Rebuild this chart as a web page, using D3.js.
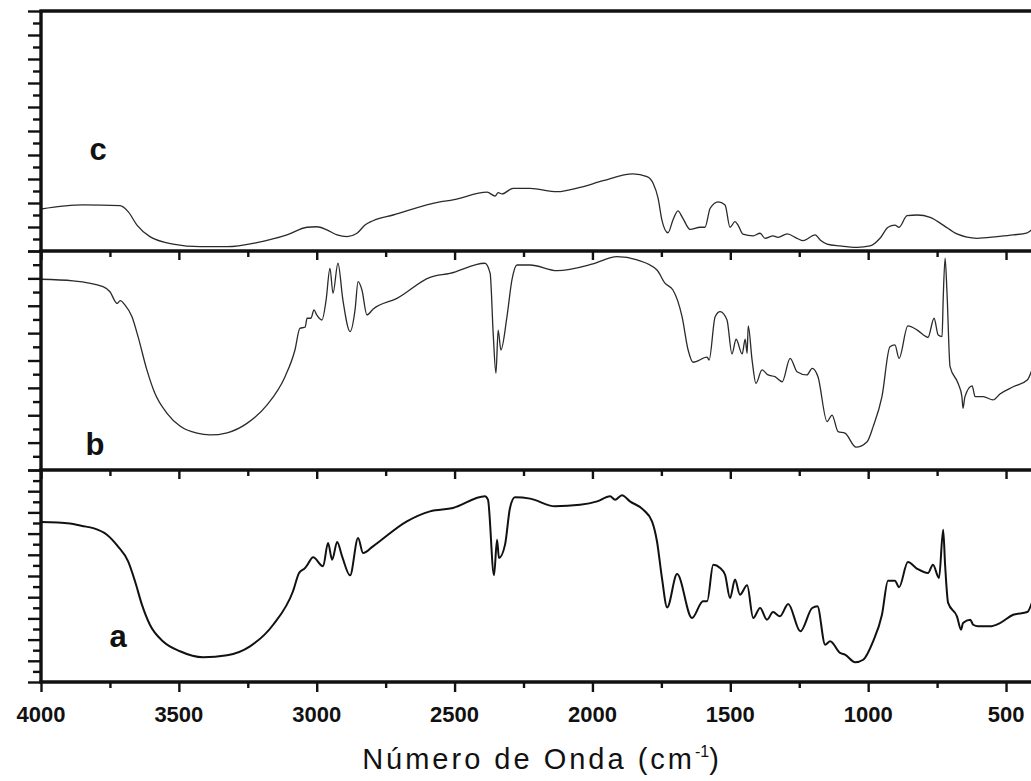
<!DOCTYPE html>
<html>
<head>
<meta charset="utf-8">
<script src="https://cdn.jsdelivr.net/npm/d3@7"></script>
<style>
  html, body { margin: 0; padding: 0; background: #fff; }
  svg { display: block; }
</style>
</head>
<body>
<svg id="chart" width="1031" height="781"></svg>
<script>
// ---------------- DATA ----------------
// Spectrum c (top panel): wavenumber (cm-1) and transmittance (a.u., 0-100)
const cWave = [4000,3848,3713,3684,3652,3605,3521,3423,3325,3217,3108,3035,3000,2963,2926,2890,2854,2825,2796,2723,2553,2506,2382,2353,2342,2328,2288,2226,2128,2045,1961,1853,1802,1780,1762,1748,1726,1708,1690,1672,1646,1610,1592,1573,1544,1519,1501,1483,1472,1454,1417,1392,1374,1345,1327,1294,1258,1236,1192,1174,1149,1102,1040,993,957,928,903,888,859,822,775,728,678,605,532,474,423,400];
const cT    = [17.5,19.2,18.9,16.4,10.8,6.0,2.9,1.8,1.8,3.5,6.7,9.9,10.1,8.8,6.7,6.0,7.4,10.8,12.6,15.0,20.5,21.3,24.5,22.9,24.3,23.8,26.1,26.1,24.7,26.5,29.3,32.1,31.0,28.2,22.0,12.9,7.6,12.9,16.7,13.6,9.0,9.9,9.9,17.8,20.5,19.2,9.9,12.2,10.8,7.0,6.3,7.4,5.3,6.3,5.7,7.1,5.3,4.3,6.7,4.6,2.9,2.1,1.5,2.1,5.3,9.9,10.8,9.9,14.7,15.0,14.0,10.8,7.1,5.3,6.0,6.7,7.6,9.5];

// Spectrum b (middle panel)
const bWave = [4000,3884,3775,3750,3724,3713,3695,3670,3648,3616,3587,3543,3496,3434,3387,3325,3253,3180,3115,3079,3061,3042,3035,3021,3010,3000,2981,2966,2952,2941,2923,2905,2879,2861,2850,2836,2818,2796,2709,2589,2517,2390,2371,2360,2350,2342,2332,2310,2292,2274,2226,2128,1998,1911,1838,1766,1737,1708,1675,1653,1635,1584,1577,1555,1537,1512,1494,1479,1457,1446,1439,1435,1421,1407,1385,1363,1338,1312,1283,1258,1222,1203,1182,1149,1131,1109,1084,1044,1004,982,950,921,903,888,856,822,783,761,746,732,728,721,714,703,674,660,656,649,623,612,583,547,522,474,423,400];
const bT    = [87.1,86.4,83.7,81.4,76.1,77.3,75.3,70.0,60.9,45.7,35.0,25.9,20.1,16.8,16.0,17.0,21.3,29.7,42.6,54.8,64.7,65.2,69.3,69.3,73.1,70.8,68.5,77.6,92.1,80.7,94.4,77.6,63.2,73.1,86.0,82.2,70.8,73.4,78.4,88.0,89.8,94.4,89.8,62.4,44.2,63.9,54.8,70.0,86.8,93.6,93.6,91.0,94.1,97.4,95.9,91.3,85.3,82.2,70.0,54.8,49.2,51.5,50.2,70.0,72.3,68.5,53.0,59.7,53.0,59.7,53.3,65.8,50.2,39.6,45.7,43.4,42.6,40.3,51.0,44.9,43.4,46.4,42.6,22.1,25.1,17.5,16.8,10.4,12.9,19.8,33.5,56.3,57.1,51.0,65.8,63.9,60.6,69.3,61.6,60.9,77.6,96.7,80.7,47.2,39.6,33.5,28.2,33.5,38.4,33.5,33.5,32.0,34.7,38.0,41.1,48.0];

// Spectrum a (bottom panel)
const aWave = [4000,3895,3851,3811,3761,3721,3684,3659,3634,3605,3558,3496,3412,3325,3242,3158,3086,3064,3042,3035,3013,2977,2959,2944,2926,2908,2879,2850,2832,2796,2673,2589,2506,2390,2379,2357,2346,2339,2317,2299,2281,2226,2136,2045,1983,1936,1918,1893,1864,1816,1784,1766,1748,1729,1693,1639,1599,1584,1562,1537,1519,1501,1483,1465,1439,1417,1392,1367,1345,1320,1290,1246,1203,1184,1156,1138,1102,1084,1047,1018,982,950,928,903,888,856,822,783,765,743,728,721,710,678,663,656,630,619,601,558,522,474,423,400];
const aT    = [75.5,74.8,73.6,72.6,69.5,64.0,56.9,47.5,36.5,27.0,19.2,14.5,11.7,12.6,16.8,27.0,42.8,51.4,53.8,55.0,58.8,54.6,65.6,57.7,66.0,59.3,50.3,67.9,60.8,64.0,75.8,80.5,82.1,87.6,86.0,50.3,67.1,58.5,64.8,82.1,87.1,86.5,82.9,83.6,85.2,87.6,86.0,88.1,85.2,81.3,75.8,66.4,49.1,35.2,50.9,30.2,38.1,38.1,55.3,53.8,50.6,39.6,48.3,41.2,45.6,30.2,34.9,29.4,33.0,31.0,36.8,23.9,34.9,35.7,17.6,19.2,13.7,12.9,9.3,10.5,19.2,31.7,47.8,47.8,44.7,56.6,53.4,51.4,55.3,49.1,71.8,55.3,37.3,31.0,24.7,27.8,29.4,27.0,26.3,26.3,27.8,31.7,33.0,40.0];

// Axis ticks
const xMajorTicks = [4000,3500,3000,2500,2000,1500,1000,500];
const xMinorTicks = [3750,3250,2750,2250,1750,1250,750];
const panelLabels = ["c","b","a"];
const xTitle = "Número de Onda (cm";
const xTitleSup = "-1";

// ---------------- LAYOUT ----------------
const svg = d3.select("#chart");
const left = 41, right = 1033.6;
const x = d3.scaleLinear().domain([4000, 400]).range([left, right]);

const panels = [
  {label: panelLabels[0], wave: cWave, t: cT, top: 11,  bottom: 251, ticks: d3.range(0, 100.01, 5),    width: 1.3, color: "#2a2a2a", lx: 98,  ly: 160},
  {label: panelLabels[1], wave: bWave, t: bT, top: 251, bottom: 470, ticks: d3.range(0, 100.01, 6.25), width: 1.3, color: "#2a2a2a", lx: 95,  ly: 455},
  {label: panelLabels[2], wave: aWave, t: aT, top: 470, bottom: 682, ticks: d3.range(0, 100.01, 5),    width: 2.0, color: "#111",    lx: 118, ly: 647}
];

const fontFamily = "'Liberation Sans', Arial, Helvetica, sans-serif";

panels.forEach((p, i) => {
  const y = d3.scaleLinear().domain([0, 100]).range([p.bottom, p.top]);
  const g = svg.append("g");

  // spectrum line
  const data = p.wave.map((w, k) => ({w, v: p.t[k]}));
  const line = d3.line().x(d => x(d.w)).y(d => y(d.v)).curve(d3.curveMonotoneX);
  g.append("path")
    .datum(data)
    .attr("d", line)
    .attr("fill", "none")
    .attr("stroke", p.color)
    .attr("stroke-width", p.width)
    .attr("stroke-linejoin", "round");

  // left axis ticks (alternating long / short)
  const major = p.ticks.filter((d, k) => k % 2 === 0);
  const minor = p.ticks.filter((d, k) => k % 2 === 1);
  const la = g.append("g").attr("transform", `translate(${left},0)`)
    .call(d3.axisLeft(y).tickValues(major).tickSize(13).tickFormat("").tickSizeOuter(0));
  const lb = g.append("g").attr("transform", `translate(${left},0)`)
    .call(d3.axisLeft(y).tickValues(minor).tickSize(8).tickFormat("").tickSizeOuter(0));
  [la, lb].forEach(a => {
    a.select(".domain").remove();
    a.selectAll(".tick line").attr("stroke", "#111").attr("stroke-width", 2.4);
  });

  // top ticks pointing into panel (panels b and a)
  if (i > 0) {
    const ta = g.append("g").attr("transform", `translate(0,${p.top})`)
      .call(d3.axisBottom(x).tickValues(xMajorTicks).tickSize(9).tickFormat("").tickSizeOuter(0));
    const tb = g.append("g").attr("transform", `translate(0,${p.top})`)
      .call(d3.axisBottom(x).tickValues(xMinorTicks).tickSize(6).tickFormat("").tickSizeOuter(0));
    [ta, tb].forEach(a => {
      a.select(".domain").remove();
      a.selectAll(".tick line").attr("stroke", "#111").attr("stroke-width", 2.4);
    });
  }

  // panel label
  svg.append("text")
    .attr("x", p.lx).attr("y", p.ly)
    .attr("text-anchor", "middle")
    .attr("font-family", fontFamily)
    .attr("font-weight", "bold")
    .attr("font-size", 31)
    .attr("fill", "#111")
    .text(p.label);
});

// bottom x axis (outward ticks)
const bottomY = 682;
const xa = svg.append("g").attr("transform", `translate(0,${bottomY})`)
  .call(d3.axisBottom(x).tickValues(xMajorTicks).tickSize(10).tickFormat("").tickSizeOuter(0));
const xb = svg.append("g").attr("transform", `translate(0,${bottomY})`)
  .call(d3.axisBottom(x).tickValues(xMinorTicks).tickSize(6).tickFormat("").tickSizeOuter(0));
[xa, xb].forEach(a => {
  a.select(".domain").remove();
  a.selectAll(".tick line").attr("stroke", "#111").attr("stroke-width", 2.4);
});

svg.append("g").selectAll("text")
  .data(xMajorTicks)
  .join("text")
  .attr("x", d => x(d))
  .attr("y", 722)
  .attr("text-anchor", "middle")
  .attr("font-family", fontFamily)
  .attr("font-weight", "bold")
  .attr("font-size", 22)
  .attr("fill", "#111")
  .text(d => d);

// frame lines
const frame = svg.append("g").attr("stroke", "#111").attr("stroke-width", 3.4).attr("fill", "none");
[11, 251, 470, 682].forEach(yy => {
  frame.append("line").attr("x1", left - 1.7).attr("x2", right).attr("y1", yy).attr("y2", yy);
});
frame.append("line").attr("x1", left).attr("x2", left).attr("y1", 11).attr("y2", 682);
frame.append("line").attr("x1", right).attr("x2", right).attr("y1", 11).attr("y2", 682);

// x axis title
const title = svg.append("text")
  .attr("x", 542).attr("y", 769)
  .attr("text-anchor", "middle")
  .attr("font-family", fontFamily)
  .attr("font-size", 29)
  .attr("letter-spacing", 3)
  .attr("fill", "#111");
title.append("tspan").text(xTitle);
title.append("tspan").attr("dy", -12).attr("font-size", 16).attr("letter-spacing", 0).text(xTitleSup);
title.append("tspan").attr("dy", 12).text(")");
</script>
</body>
</html>
